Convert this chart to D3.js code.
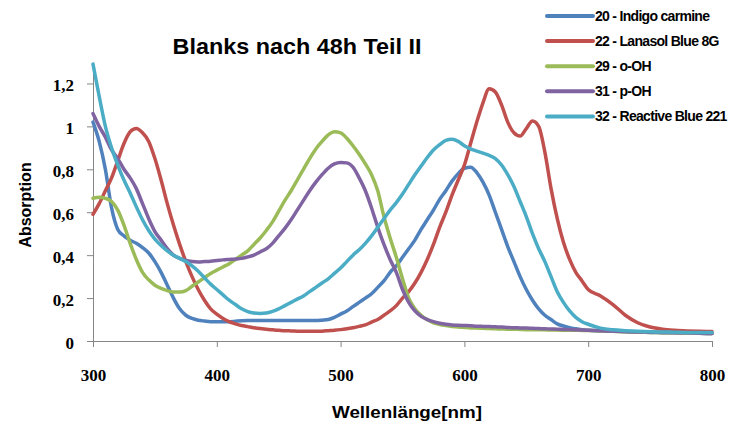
<html>
  <head>
    <title>Blanks nach 48h Teil II</title>
    <style type="text/css">
      body { margin: 0; background: #fff; }
      .chart { width: 745px; height: 427px; display: block; }
    </style>
    <script src="https://d3js.org/d3.v7.min.js"></script>
  </head>
  <body>
    <svg class="chart"></svg>
    <script>

// wavelengths (nm) shared by all series
var wavelengths = [300,305,310,315,320,325,330,335,340,345,350,355,360,365,370,375,380,385,390,395,
  400,405,410,415,420,425,430,435,440,445,450,455,460,465,470,475,480,485,490,495,
  500,505,510,515,520,525,530,535,540,545,550,555,560,565,570,575,580,585,590,595,
  600,605,610,615,620,625,630,635,640,645,650,655,660,665,670,675,680,685,690,695,
  700,710,720,730,740,750,760,770,780,790,800];

var indigoCarmine = [1.02,0.93,0.80,0.62,0.52,0.49,0.47,0.455,0.435,0.41,0.37,0.32,0.26,0.20,0.15,0.12,0.105,0.097,0.093,0.09,
  0.09,0.09,0.09,0.092,0.094,0.095,0.095,0.095,0.095,0.095,0.095,0.095,0.095,0.095,0.095,0.095,0.095,0.097,0.10,0.11,
  0.125,0.14,0.16,0.18,0.20,0.22,0.25,0.28,0.32,0.35,0.39,0.43,0.47,0.52,0.565,0.61,0.66,0.70,0.745,0.78,
  0.805,0.81,0.785,0.74,0.68,0.60,0.52,0.44,0.37,0.30,0.24,0.19,0.15,0.12,0.10,0.08,0.07,0.062,0.057,0.053,
  0.05,0.047,0.045,0.043,0.041,0.04,0.039,0.038,0.037,0.036,0.035];

var lanasolBlue = [0.59,0.64,0.70,0.76,0.84,0.92,0.975,0.99,0.97,0.93,0.85,0.75,0.64,0.54,0.45,0.37,0.30,0.24,0.19,0.15,
  0.125,0.105,0.09,0.08,0.072,0.067,0.062,0.058,0.055,0.052,0.05,0.048,0.047,0.046,0.045,0.045,0.045,0.046,0.048,0.05,
  0.053,0.057,0.062,0.068,0.075,0.088,0.10,0.12,0.14,0.165,0.20,0.23,0.27,0.32,0.38,0.45,0.53,0.60,0.68,0.75,
  0.82,0.92,1.02,1.11,1.175,1.16,1.10,1.02,0.97,0.955,0.99,1.025,1.00,0.88,0.71,0.57,0.46,0.38,0.32,0.28,
  0.24,0.21,0.17,0.12,0.085,0.065,0.055,0.05,0.047,0.045,0.044];

var orthoOH = [0.665,0.67,0.665,0.65,0.61,0.54,0.455,0.38,0.32,0.285,0.26,0.245,0.235,0.228,0.228,0.235,0.255,0.275,0.295,0.315,
  0.33,0.345,0.36,0.38,0.40,0.42,0.45,0.48,0.515,0.555,0.605,0.655,0.70,0.75,0.80,0.85,0.895,0.93,0.96,0.975,
  0.97,0.945,0.91,0.87,0.825,0.775,0.70,0.58,0.48,0.39,0.29,0.20,0.15,0.12,0.10,0.085,0.077,0.072,0.068,0.065,
  0.063,0.061,0.06,0.059,0.058,0.057,0.056,0.055,0.055,0.054,0.053,0.053,0.052,0.052,0.051,0.051,0.05,0.05,0.05,0.049,
  0.049,0.047,0.045,0.043,0.041,0.04,0.039,0.038,0.037,0.036,0.035];

var paraOH = [1.06,1.00,0.95,0.89,0.85,0.80,0.76,0.71,0.64,0.57,0.51,0.47,0.43,0.40,0.385,0.375,0.37,0.368,0.37,0.372,
  0.375,0.378,0.38,0.382,0.385,0.392,0.40,0.415,0.43,0.455,0.49,0.525,0.565,0.61,0.655,0.70,0.74,0.775,0.805,0.825,
  0.832,0.83,0.81,0.76,0.70,0.62,0.53,0.45,0.38,0.32,0.24,0.18,0.14,0.115,0.10,0.09,0.083,0.078,0.075,0.073,
  0.072,0.071,0.069,0.068,0.067,0.066,0.065,0.063,0.062,0.061,0.06,0.059,0.058,0.057,0.056,0.055,0.054,0.053,0.052,0.051,
  0.05,0.048,0.046,0.044,0.042,0.041,0.04,0.039,0.038,0.036,0.035];

var reactiveBlue = [1.29,1.14,1.00,0.90,0.82,0.75,0.69,0.625,0.565,0.515,0.475,0.445,0.42,0.40,0.385,0.37,0.35,0.325,0.295,0.265,
  0.24,0.215,0.19,0.17,0.15,0.137,0.13,0.128,0.13,0.138,0.15,0.165,0.18,0.195,0.21,0.23,0.25,0.27,0.29,0.315,
  0.34,0.37,0.40,0.425,0.455,0.49,0.53,0.57,0.61,0.645,0.685,0.73,0.775,0.815,0.855,0.89,0.915,0.935,0.94,0.93,
  0.91,0.895,0.885,0.875,0.865,0.85,0.82,0.775,0.72,0.65,0.58,0.50,0.43,0.37,0.30,0.23,0.18,0.14,0.11,0.09,
  0.078,0.06,0.052,0.048,0.045,0.043,0.042,0.041,0.04,0.04,0.04];

var seriesNames = ["20 - Indigo carmine", "22 - Lanasol Blue 8G", "29 - o-OH", "31 - p-OH", "32 - Reactive Blue 221"];
var seriesValues = [indigoCarmine, lanasolBlue, orthoOH, paraOH, reactiveBlue];
var seriesColors = ["#4F81BD", "#C0504D", "#9BBB59", "#8064A2", "#4BACC6"];

var xTicks = [300, 400, 500, 600, 700, 800];
var yTicks = [0, 0.2, 0.4, 0.6, 0.8, 1, 1.2];

var svg = d3.select(".chart");

var x = d3.scaleLinear().domain([300, 800]).range([93, 712]);
var y = d3.scaleLinear().domain([0, 1.3]).range([341, 62]);

var axisColor = "#868686";

// y axis
var yAxis = svg.append("g")
    .attr("transform", "translate(93,0)")
    .call(d3.axisLeft(y).tickValues(yTicks).tickSize(6).tickSizeOuter(0)
      .tickFormat(function(d) { return String(d).replace(".", ","); }));
yAxis.select(".domain").attr("stroke", axisColor);
yAxis.selectAll(".tick line").attr("stroke", axisColor);
yAxis.selectAll(".tick text")
    .attr("x", -19)
    .attr("dy", "0.42em")
    .attr("fill", "#000")
    .style("font-family", "'Liberation Serif', serif")
    .style("font-weight", "bold")
    .style("font-size", "17px");

// x axis
var xAxis = svg.append("g")
    .attr("transform", "translate(0,341)")
    .call(d3.axisBottom(x).tickValues(xTicks).tickSize(6).tickSizeOuter(0));
xAxis.select(".domain").attr("stroke", axisColor);
xAxis.selectAll(".tick line").attr("stroke", axisColor);
xAxis.selectAll(".tick text")
    .attr("y", 40)
    .attr("dy", 0)
    .attr("fill", "#000")
    .style("font-family", "'Liberation Serif', serif")
    .style("font-weight", "bold")
    .style("font-size", "17px");

// lines
var line = d3.line()
    .x(function(d, i) { return x(wavelengths[i]); })
    .y(function(d) { return y(d); })
    .curve(d3.curveMonotoneX);

svg.selectAll("path.series")
  .data(seriesValues)
  .enter().append("path")
    .attr("class", "series")
    .attr("fill", "none")
    .attr("stroke", function(d, i) { return seriesColors[i]; })
    .attr("stroke-width", 3.5)
    .attr("stroke-linejoin", "round")
    .attr("stroke-linecap", "round")
    .attr("d", line);

// title
svg.append("text")
    .attr("x", 297)
    .attr("y", 54)
    .attr("text-anchor", "middle")
    .attr("textLength", 249)
    .attr("lengthAdjust", "spacingAndGlyphs")
    .style("font-family", "'Liberation Sans', Arial, sans-serif")
    .style("font-weight", "bold")
    .style("font-size", "22px")
    .text("Blanks nach 48h Teil II");

// axis titles
svg.append("text")
    .attr("transform", "translate(31,205) rotate(-90)")
    .attr("text-anchor", "middle")
    .style("font-family", "'Liberation Sans', Arial, sans-serif")
    .style("font-weight", "bold")
    .style("font-size", "16px")
    .text("Absorption");

svg.append("text")
    .attr("x", 407)
    .attr("y", 418)
    .attr("text-anchor", "middle")
    .attr("textLength", 150)
    .attr("lengthAdjust", "spacingAndGlyphs")
    .style("font-family", "'Liberation Sans', Arial, sans-serif")
    .style("font-weight", "bold")
    .style("font-size", "17px")
    .text("Wellenlänge[nm]");

// legend
var legend = svg.selectAll("g.legend")
  .data(seriesNames)
  .enter().append("g")
    .attr("class", "legend")
    .attr("transform", function(d, i) { return "translate(547," + (16 + i * 25.1) + ")"; });

legend.append("line")
    .attr("x1", 0).attr("x2", 46)
    .attr("y1", 0).attr("y2", 0)
    .attr("stroke", function(d, i) { return seriesColors[i]; })
    .attr("stroke-width", 4)
    .attr("stroke-linecap", "round");

legend.append("text")
    .attr("x", 48)
    .attr("y", 5)
    .style("font-family", "'Liberation Sans', Arial, sans-serif")
    .style("font-weight", "bold")
    .style("font-size", "14px")
    .style("letter-spacing", "-0.7px")
    .text(function(d) { return d; });

</script>
  </body>
</html>
